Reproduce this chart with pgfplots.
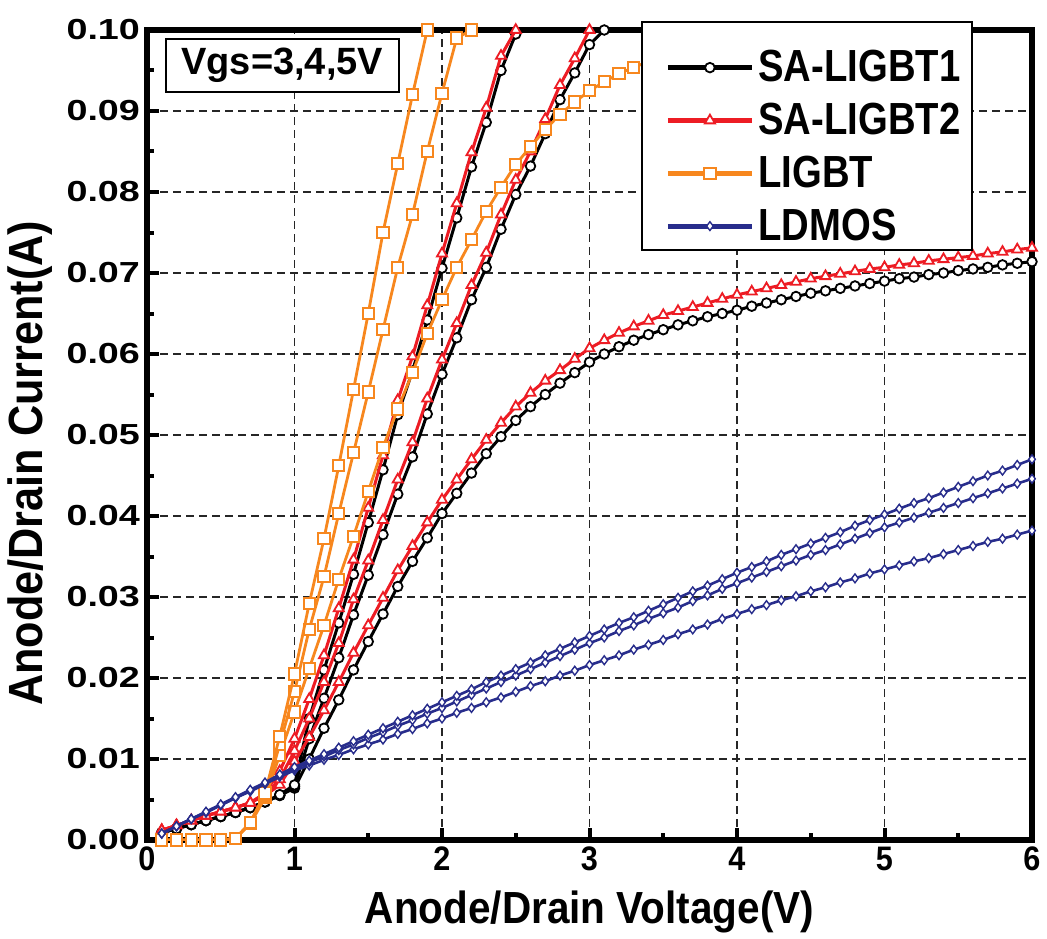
\documentclass[border=0pt]{standalone}
\usepackage{fontspec}
\setmainfont{Liberation Sans}
\newfontfamily\lblfont[FakeStretch=0.9]{Liberation Sans}
\newfontfamily\legfont[FakeStretch=0.85]{Liberation Sans}
\newfontfamily\yfont[FakeStretch=1.3]{Liberation Sans}
\usepackage{pgfplots}
\usepackage{pgfplotstable}
\pgfplotsset{compat=1.18}

\definecolor{cred}{RGB}{237,28,36}
\definecolor{corange}{RGB}{247,135,30}
\definecolor{cblue}{RGB}{40,45,140}

% SA-LIGBT1 (black), Vgs = 3, 4, 5 V
\pgfplotstableread{
V g3 g4 g5
0.1 0.0009 0.0009 0.0009
0.2 0.0014 0.0014 0.0014
0.3 0.0019 0.0019 0.0019
0.4 0.0024 0.0024 0.0024
0.5 0.0029 0.0029 0.0029
0.6 0.0034 0.0034 0.0034
0.7 0.0040 0.0040 0.0040
0.8 0.0047 0.0047 0.0047
0.9 0.0055 0.0055 0.0056
1.0 0.0064 0.0066 0.0068
1.1 0.0100 0.0125 0.0150
1.2 0.0138 0.0175 0.0210
1.3 0.0173 0.0225 0.0268
1.4 0.0210 0.0278 0.0328
1.5 0.0245 0.0327 0.0392
1.6 0.0279 0.0377 0.0457
1.7 0.0313 0.0427 0.0525
1.8 0.0344 0.0473 0.0579
1.9 0.0373 0.0526 0.0642
2.0 0.0403 0.0575 0.0706
2.1 0.0428 0.0620 0.0768
2.2 0.0453 0.0667 0.0831
2.3 0.0477 0.0707 0.0886
2.4 0.0498 0.0754 0.0950
2.5 0.0518 0.0797 0.0995
2.6 0.0535 0.0832 nan
2.7 0.0550 0.0872 nan
2.8 0.0564 0.0914 nan
2.9 0.0577 0.0947 nan
3.0 0.0590 0.0982 nan
3.1 0.0600 0.1000 nan
3.2 0.0609 nan nan
3.3 0.0617 nan nan
3.4 0.0624 nan nan
3.5 0.0630 nan nan
3.6 0.0636 nan nan
3.7 0.0641 nan nan
3.8 0.0646 nan nan
3.9 0.0650 nan nan
4.0 0.0654 nan nan
4.1 0.0659 nan nan
4.2 0.0663 nan nan
4.3 0.0667 nan nan
4.4 0.0671 nan nan
4.5 0.0675 nan nan
4.6 0.0678 nan nan
4.7 0.0681 nan nan
4.8 0.0684 nan nan
4.9 0.0687 nan nan
5.0 0.0690 nan nan
5.1 0.0693 nan nan
5.2 0.0695 nan nan
5.3 0.0698 nan nan
5.4 0.0700 nan nan
5.5 0.0703 nan nan
5.6 0.0705 nan nan
5.7 0.0707 nan nan
5.8 0.0710 nan nan
5.9 0.0712 nan nan
6.0 0.0714 nan nan
}\saone

% SA-LIGBT2 (red)
\pgfplotstableread{
V g3 g4 g5
0.1 0.0012 0.0012 0.0012
0.2 0.0018 0.0018 0.0018
0.3 0.0024 0.0024 0.0024
0.4 0.0030 0.0030 0.0030
0.5 0.0035 0.0035 0.0035
0.6 0.0040 0.0040 0.0040
0.7 0.0046 0.0046 0.0046
0.8 0.0055 0.0056 0.0058
0.9 0.0068 0.0075 0.0085
1.0 0.0097 0.0110 0.0125
1.1 0.0127 0.0150 0.0174
1.2 0.0160 0.0195 0.0228
1.3 0.0195 0.0243 0.0286
1.4 0.0231 0.0297 0.0346
1.5 0.0265 0.0345 0.0410
1.6 0.0299 0.0395 0.0475
1.7 0.0333 0.0445 0.0543
1.8 0.0363 0.0491 0.0597
1.9 0.0392 0.0545 0.0660
2.0 0.0420 0.0593 0.0724
2.1 0.0445 0.0638 0.0786
2.2 0.0470 0.0685 0.0849
2.3 0.0494 0.0725 0.0904
2.4 0.0515 0.0772 0.0968
2.5 0.0535 0.0815 0.1000
2.6 0.0552 0.0850 nan
2.7 0.0567 0.0890 nan
2.8 0.0580 0.0932 nan
2.9 0.0594 0.0965 nan
3.0 0.0607 0.1000 nan
3.1 0.0617 nan nan
3.2 0.0626 nan nan
3.3 0.0634 nan nan
3.4 0.0641 nan nan
3.5 0.0648 nan nan
3.6 0.0653 nan nan
3.7 0.0658 nan nan
3.8 0.0663 nan nan
3.9 0.0668 nan nan
4.0 0.0673 nan nan
4.1 0.0677 nan nan
4.2 0.0681 nan nan
4.3 0.0685 nan nan
4.4 0.0689 nan nan
4.5 0.0693 nan nan
4.6 0.0696 nan nan
4.7 0.0699 nan nan
4.8 0.0702 nan nan
4.9 0.0705 nan nan
5.0 0.0707 nan nan
5.1 0.0710 nan nan
5.2 0.0712 nan nan
5.3 0.0715 nan nan
5.4 0.0717 nan nan
5.5 0.0719 nan nan
5.6 0.0721 nan nan
5.7 0.0724 nan nan
5.8 0.0726 nan nan
5.9 0.0729 nan nan
6.0 0.0731 nan nan
}\satwo

% LIGBT (orange)
\pgfplotstableread{
V g3 g4 g5
0.1 0.0000 0.0000 0.0000
0.2 0.0000 0.0000 0.0000
0.3 0.0000 0.0000 0.0000
0.4 0.0000 0.0000 0.0000
0.5 0.0000 0.0000 0.0000
0.6 0.0002 0.0002 0.0002
0.7 0.0020 0.0020 0.0022
0.8 0.0052 0.0055 0.0058
0.9 0.0105 0.0118 0.0128
1.0 0.0158 0.0183 0.0205
1.1 0.0212 0.0260 0.0292
1.2 0.0265 0.0325 0.0372
1.3 0.0322 0.0403 0.0462
1.4 0.0375 0.0478 0.0556
1.5 0.0430 0.0553 0.0650
1.6 0.0485 0.0630 0.0750
1.7 0.0532 0.0707 0.0835
1.8 0.0577 0.0772 0.0920
1.9 0.0625 0.0850 0.1000
2.0 0.0667 0.0922 nan
2.1 0.0707 0.0990 nan
2.2 0.0741 0.1000 nan
2.3 0.0776 nan nan
2.4 0.0806 nan nan
2.5 0.0834 nan nan
2.6 0.0856 nan nan
2.7 0.0877 nan nan
2.8 0.0896 nan nan
2.9 0.0911 nan nan
3.0 0.0925 nan nan
3.1 0.0936 nan nan
3.2 0.0946 nan nan
3.3 0.0954 nan nan
3.4 0.0961 nan nan
3.5 0.0967 nan nan
3.6 0.0972 nan nan
3.7 0.0976 nan nan
3.8 0.0980 nan nan
3.9 0.0984 nan nan
4.0 0.0988 nan nan
4.1 0.0992 nan nan
4.2 0.0996 nan nan
4.3 0.1000 nan nan
}\ligbt

% LDMOS (blue)
\pgfplotstableread{
V g3 g4 g5
0.1 0.0008 0.0008 0.0008
0.2 0.0017 0.0017 0.0017
0.3 0.0026 0.0026 0.0026
0.4 0.0034 0.0034 0.0035
0.5 0.0043 0.0043 0.0044
0.6 0.0052 0.0052 0.0053
0.7 0.0060 0.0061 0.0062
0.8 0.0069 0.0070 0.0071
0.9 0.0078 0.0079 0.0081
1.0 0.0086 0.0088 0.0090
1.1 0.0092 0.0096 0.0098
1.2 0.0099 0.0103 0.0106
1.3 0.0105 0.0111 0.0114
1.4 0.0112 0.0118 0.0122
1.5 0.0118 0.0126 0.0130
1.6 0.0124 0.0133 0.0138
1.7 0.0131 0.0141 0.0146
1.8 0.0137 0.0148 0.0154
1.9 0.0144 0.0156 0.0162
2.0 0.0150 0.0163 0.0170
2.1 0.0157 0.0171 0.0178
2.2 0.0163 0.0179 0.0186
2.3 0.0170 0.0187 0.0195
2.4 0.0176 0.0195 0.0203
2.5 0.0183 0.0203 0.0211
2.6 0.0190 0.0211 0.0219
2.7 0.0196 0.0219 0.0228
2.8 0.0203 0.0227 0.0236
2.9 0.0209 0.0235 0.0244
3.0 0.0216 0.0243 0.0252
3.1 0.0222 0.0250 0.0260
3.2 0.0228 0.0258 0.0268
3.3 0.0235 0.0265 0.0275
3.4 0.0241 0.0273 0.0283
3.5 0.0247 0.0280 0.0291
3.6 0.0254 0.0287 0.0299
3.7 0.0260 0.0295 0.0307
3.8 0.0266 0.0302 0.0314
3.9 0.0273 0.0310 0.0322
4.0 0.0279 0.0317 0.0330
4.1 0.0285 0.0324 0.0337
4.2 0.0290 0.0331 0.0344
4.3 0.0296 0.0338 0.0352
4.4 0.0301 0.0345 0.0359
4.5 0.0307 0.0352 0.0366
4.6 0.0312 0.0358 0.0373
4.7 0.0318 0.0365 0.0380
4.8 0.0323 0.0372 0.0388
4.9 0.0329 0.0379 0.0395
5.0 0.0334 0.0386 0.0402
5.1 0.0339 0.0392 0.0409
5.2 0.0344 0.0398 0.0416
5.3 0.0348 0.0404 0.0422
5.4 0.0353 0.0410 0.0429
5.5 0.0358 0.0416 0.0436
5.6 0.0363 0.0422 0.0443
5.7 0.0368 0.0428 0.0450
5.8 0.0372 0.0434 0.0456
5.9 0.0377 0.0440 0.0463
6.0 0.0382 0.0446 0.0470
}\ldmos

\pgfplotsset{
  sa1/.style={black, line width=1.5pt, mark=*, mark size=2.4pt, mark options={solid, fill=white, line width=0.9pt}},
  sa2/.style={cred, line width=1.5pt, mark=triangle*, mark size=2.9pt, mark options={solid, fill=white, line width=0.9pt}},
  lig/.style={corange, line width=1.4pt, mark=square*, mark size=2.8pt, mark options={solid, fill=white, line width=1pt}},
  ldm/.style={cblue, line width=1.3pt, mark=diamond*, mark size=2.2pt, mark options={solid, fill=white, line width=0.7pt}},
}

\begin{document}
\begin{tikzpicture}
\begin{axis}[
  name=ax,
  scale only axis,
  width=442.5pt, height=405pt,
  xmin=0, xmax=6, ymin=0, ymax=0.1,
  clip mode=individual,
  xtick={0,1,2,3,4,5,6},
  ytick={0,0.01,0.02,0.03,0.04,0.05,0.06,0.07,0.08,0.09,0.1},
  minor x tick num=1, minor y tick num=1,
  tick align=inside, tick pos=left,
  major tick length=6pt, minor tick length=3.5pt,
  major tick style={line width=2pt, black},
  minor tick style={line width=2pt, black},
  axis line style={line width=3pt},
  grid=major,
  major grid style={dash pattern=on 4pt off 2.5pt, line width=0.9pt, black!85},
  /pgf/number format/assume math mode=true,
  xticklabel style={font=\lblfont\bfseries\fontsize{17}{20}\selectfont},
  yticklabel style={font=\yfont\bfseries\fontsize{14.5}{17}\selectfont,
    /pgf/number format/.cd, fixed, fixed zerofill, precision=2},
  xlabel={Anode/Drain Voltage(V)},
  ylabel={Anode/Drain Current(A)},
  xlabel style={font=\lblfont\bfseries\fontsize{22.5}{26}\selectfont, yshift=-3pt},
  ylabel style={font=\lblfont\bfseries\fontsize{24}{28}\selectfont,
    at={(ticklabel cs:0.465)}},
  legend cell align=left,
  legend style={at={(0.5763,0.9975)}, anchor=north west, draw=none, fill=none,
    font=\legfont\bfseries\fontsize{22.5}{26}\selectfont,
    inner xsep=4pt, inner ysep=7pt, row sep=5.2pt},
  legend image code/.code={\draw[mark repeat=2, mark phase=2, #1]
    plot coordinates {(0pt,0pt) (21pt,0pt) (42pt,0pt)};},
]
\addplot[sa1, forget plot] table[x=V, y=g3] {\saone};
\addplot[sa1, forget plot] table[x=V, y=g4] {\saone};
\addplot[sa1, forget plot] table[x=V, y=g5] {\saone};
\addplot[sa2, forget plot] table[x=V, y=g3] {\satwo};
\addplot[sa2, forget plot] table[x=V, y=g4] {\satwo};
\addplot[sa2, forget plot] table[x=V, y=g5] {\satwo};
\addplot[lig, forget plot] table[x=V, y=g3] {\ligbt};
\addplot[lig, forget plot] table[x=V, y=g4] {\ligbt};
\addplot[lig, forget plot] table[x=V, y=g5] {\ligbt};
\addplot[ldm, forget plot] table[x=V, y=g3] {\ldmos};
\addplot[ldm, forget plot] table[x=V, y=g4] {\ldmos};
\addplot[ldm, forget plot] table[x=V, y=g5] {\ldmos};

\addlegendimage{sa1, line width=2.5pt}
\addlegendentry{SA-LIGBT1}
\addlegendimage{sa2, line width=2.5pt}
\addlegendentry{SA-LIGBT2}
\addlegendimage{lig, line width=2.5pt}
\addlegendentry{LIGBT}
\addlegendimage{ldm, line width=2.5pt}
\addlegendentry{LDMOS}

% legend frame, drawn separately so the entries can sit low in it
\draw[black, line width=0.8pt, fill=white]
  (rel axis cs:0.5593,1.0099) rectangle (rel axis cs:0.9322,0.7284);

\node[draw=black, line width=0.8pt, fill=white, anchor=north west,
  minimum width=116.5pt, minimum height=26.5pt, inner sep=0pt,
  font=\bfseries\fontsize{19}{22}\selectfont]
  at (rel axis cs:0.0203,0.990) {Vgs=3,4,5V};
\end{axis}
\pgfresetboundingbox
\path ([shift={(-73.5pt,-49pt)}]ax.south west) rectangle ([shift={(7.5pt,15pt)}]ax.north east);
\end{tikzpicture}
\end{document}
